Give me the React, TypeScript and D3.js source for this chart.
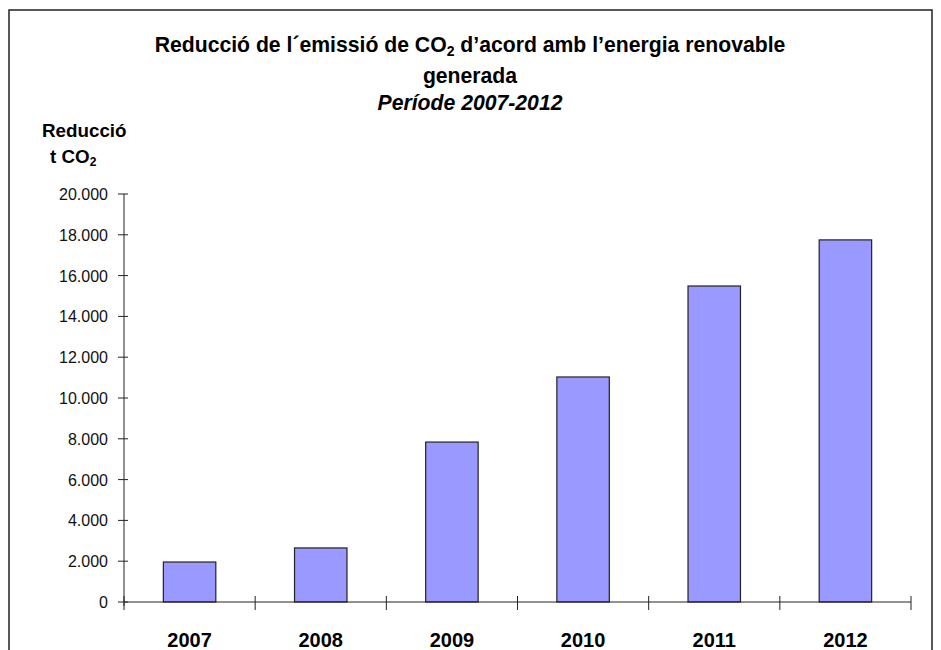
import React from "react";
import * as d3 from "d3";

const years = ["2007", "2008", "2009", "2010", "2011", "2012"];
const reduction = [1960, 2650, 7840, 11030, 15490, 17750];
const yTicks = [0, 2000, 4000, 6000, 8000, 10000, 12000, 14000, 16000, 18000, 20000];

const W = 941;
const H = 650;
const left = 124;
const right = 911;
const top = 194;
const bottom = 602;

const font = "'Liberation Sans', Arial, sans-serif";

const fmt = (v: number) => d3.format(",")(v).replace(/,/g, ".");

export default function App() {
  const x = d3.scaleBand<string>().domain(years).range([left, right]).paddingInner(0.6).paddingOuter(0.3);
  const band = d3.scaleBand<string>().domain(years).range([left, right]);
  const y = d3.scaleLinear().domain([0, 20000]).range([bottom, top]);

  return (
    <svg
      width={W}
      height={H}
      style={{ position: "absolute", left: 0, top: 0, background: "#fff" }}
      fontFamily={font}
    >
      <rect x={9} y={10} width={923} height={H} fill="none" stroke="#222" strokeWidth={1.5} />

      {/* title */}
      <text x={470} y={52} textAnchor="middle" fontSize={21.2} fontWeight="bold">
        Reducció de l´emissió de CO
        <tspan fontSize={14} dy={4}>2</tspan>
        <tspan dy={-4}> d’acord amb l’energia renovable</tspan>
      </text>
      <text x={470} y={83} textAnchor="middle" fontSize={21.2} fontWeight="bold">
        generada
      </text>
      <text x={470} y={110} textAnchor="middle" fontSize={21.2} fontWeight="bold" fontStyle="italic">
        Període 2007-2012
      </text>

      {/* y label */}
      <text x={42} y={137} fontSize={18.8} fontWeight="bold">Reducció</text>
      <text x={50} y={163} fontSize={18.8} fontWeight="bold">
        t CO<tspan fontSize={12} dy={3}>2</tspan>
      </text>

      {/* bars */}
      {years.map((yr, i) => (
        <rect
          key={yr}
          x={x(yr)}
          y={y(reduction[i])}
          width={x.bandwidth()}
          height={y(0) - y(reduction[i])}
          fill="#9999ff"
          stroke="#222"
          strokeWidth={1.2}
        />
      ))}

      {/* y axis */}
      <line x1={left} x2={left} y1={top} y2={bottom + 4} stroke="#222" strokeWidth={1} />
      {yTicks.map((t) => (
        <g key={t}>
          <line x1={left - 6} x2={left + 4} y1={y(t)} y2={y(t)} stroke="#222" strokeWidth={1} />
          <text x={108} y={y(t) + 6} textAnchor="end" fontSize={16} fill="#111">
            {fmt(t)}
          </text>
        </g>
      ))}

      {/* x axis */}
      <line x1={left} x2={right} y1={bottom} y2={bottom} stroke="#222" strokeWidth={1} />
      {[...years.map((yr) => band(yr) as number), right].map((v, i) => (
        <line key={i} x1={v} x2={v} y1={bottom - 6} y2={bottom + 8} stroke="#222" strokeWidth={1} />
      ))}
      {years.map((yr) => (
        <text
          key={yr}
          x={(band(yr) as number) + band.bandwidth() / 2}
          y={647}
          textAnchor="middle"
          fontSize={20}
          fontWeight="bold"
        >
          {yr}
        </text>
      ))}
    </svg>
  );
}
